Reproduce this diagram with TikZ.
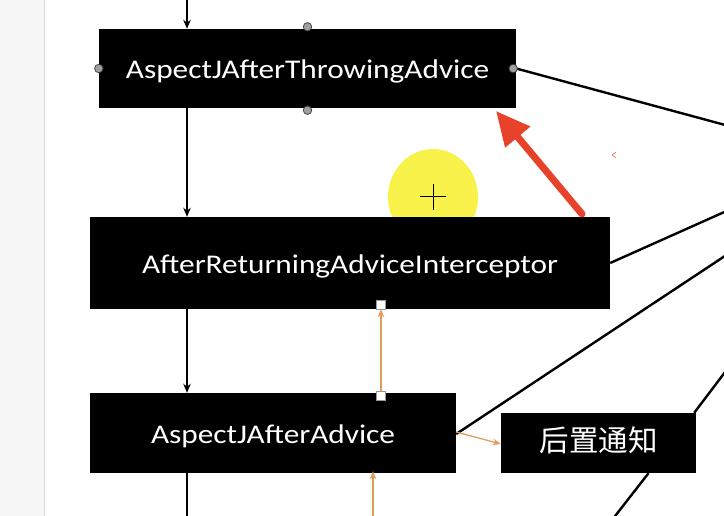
\documentclass[tikz,border=0pt]{standalone}
\usepackage{fontspec}
\newfontfamily\boxfont[FakeStretch=1.16]{Carlito}
\newfontfamily\cjk{Noto Sans CJK SC}
\usetikzlibrary{arrows.meta}

\definecolor{relorange}{HTML}{E39B5B}
\definecolor{markred}{HTML}{E8432A}
\definecolor{spotyellow}{HTML}{F8F24A}

\tikzset{
	advbox/.style={fill=black, text=white, inner sep=0pt, text height=24pt, text depth=3pt, font=\boxfont\fontsize{27}{30}\selectfont},
	handle/.style={circle, fill=gray!75, draw=gray!45!black, line width=0.7pt, inner sep=0pt, minimum size=8.5pt},
	sqhandle/.style={rectangle, fill=white, draw=gray!80, line width=0.7pt, inner sep=0pt, minimum size=9pt},
	flow/.style={line width=2pt, -{Stealth[length=9pt,width=7.5pt]}},
	link/.style={line width=2.4pt},
	rel/.style={draw=relorange, line width=1.3pt, -{Stealth[length=8pt,width=6.5pt]}},
}

\begin{document}
\begin{tikzpicture}[x=1pt,y=-1pt]
	\clip (0,0) rectangle (724,516);
	\fill[white] (0,0) rectangle (724,516);
	% left margin strip
	\fill[gray!6] (0,0) rectangle (44,516);
	\draw[gray!30, line width=1pt] (44,0) -- (44,516);

	% pointer spot
	\fill[spotyellow] (433,197) ellipse (45 and 48);
	\draw[line width=1pt] (420,197) -- (446,197);
	\draw[line width=1pt] (433,184) -- (433,210);

	\node[advbox, minimum width=417pt, minimum height=79pt] (throwing) at (307.5,68.5) {AspectJAfterThrowingAdvice};
	\node[advbox, minimum width=520pt, minimum height=92pt] (returning) at (350,263) {AfterReturningAdviceInterceptor};
	\node[advbox, minimum width=366pt, minimum height=80pt] (after) at (273,433) {AspectJAfterAdvice};
	\node[advbox, minimum width=195pt, minimum height=60pt, text height=22pt, text depth=6pt, font=\cjk\fontsize{29.5}{30}\selectfont] (houzhi) at (598.5,443) {后置通知};

	% chain
	\coordinate (chain) at (187,0);
	\draw[flow] (chain) -- (throwing.north -| chain);
	\draw[flow] (throwing.south -| chain) -- (returning.north -| chain);
	\draw[flow] (returning.south -| chain) -- (after.north -| chain);
	\draw[link] (after.south -| chain) -- ++(0,60);

	% lines leaving to the right
	\coordinate (out1) at (740,129);
	\coordinate (out2) at (740,205);
	\coordinate (out3) at (740,246);
	\coordinate (out4) at (738,355);
	\coordinate (out5) at (605,529);
	\draw[link] (throwing.east) -- (out1);
	\draw[link] (returning.east) -- (out2);
	\draw[link] ([yshift=-1pt]after.east) -- (out3);
	\draw[link] ([xshift=-2pt]houzhi.north east) -- (out4);
	\draw[link] ([xshift=50pt]houzhi.south) -- (out5);

	% orange relations
	\coordinate (up) at (381,0);
	\coordinate (low) at (373,530);
	\draw[rel] (after.north -| up) -- (returning.south -| up);
	\draw[rel] (low) -- ([yshift=2pt]after.south -| low);
	\draw[rel] ([yshift=1pt]after.east) -- ([yshift=-1pt]houzhi.west);

	% selection handles
	\node[handle] (hn) at ([yshift=2pt]throwing.north) {};
	\node[handle] (hw) at (throwing.west) {};
	\node[handle] (he) at ([xshift=-3pt]throwing.east) {};
	\node[handle] (hs) at ([yshift=-2pt]throwing.south) {};
	\node[sqhandle] (sqa) at ([yshift=4pt]returning.south -| up) {};
	\node[sqhandle] (sqb) at ([yshift=-3pt]after.north -| up) {};

	% red pointer arrow
	\coordinate (tail) at (582,214);
	\coordinate (tip) at (496,111);
	\draw[markred, line width=7pt, line cap=round, -{Triangle[length=34pt,width=31pt]}] (tail) -- (tip);
	\draw[markred!80, line width=0.6pt] (616,152) -- (612,155) -- (616,158);
\end{tikzpicture}
\end{document}
